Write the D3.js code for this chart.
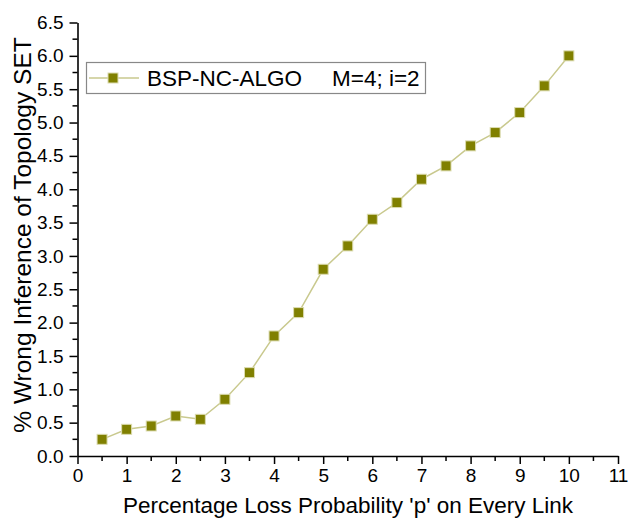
<!DOCTYPE html>
<html>
<head>
<meta charset="utf-8">
<script src="https://cdn.jsdelivr.net/npm/d3@7"></script>
<style>
  html, body { margin: 0; padding: 0; background: #fff; }
  svg { display: block; font-family: "Liberation Sans", Arial, sans-serif; }
</style>
</head>
<body>
<svg id="chart" width="630" height="525"></svg>
<script>
// Loss probability p (%) and wrong-inference rate (%)
const lossP = [0.5, 1, 1.5, 2, 2.5, 3, 3.5, 4, 4.5, 5, 5.5, 6, 6.5, 7, 7.5, 8, 8.5, 9, 9.5, 10];
const wrongInference = [0.25, 0.4, 0.45, 0.6, 0.55, 0.85, 1.25, 1.8, 2.15, 2.8, 3.15, 3.55, 3.8, 4.15, 4.35, 4.65, 4.85, 5.15, 5.55, 6.0];
const xTicks = [0, 1, 2, 3, 4, 5, 6, 7, 8, 9, 10, 11];
const yTicks = [0, 0.5, 1, 1.5, 2, 2.5, 3, 3.5, 4, 4.5, 5, 5.5, 6, 6.5];
const seriesName = "BSP-NC-ALGO";
const seriesNote = "M=4; i=2";
const xTitle = "Percentage Loss Probability 'p' on Every Link";
const yTitle = "% Wrong Inference of Topology SET";

const svg = d3.select("#chart");
const plotLeft = 77.5, plotRight = 618, plotTop = 22.5, plotBottom = 456;

const x = d3.scaleLinear().domain([0, 11]).range([plotLeft, plotRight]);
const y = d3.scaleLinear().domain([0, 6.5]).range([plotBottom, plotTop]);

const lineColor = "#c9c98e";
const markColor = "#808000";

// x axis: major ticks with labels, minor ticks at half steps
const xMinor = d3.range(0.5, 11, 1);
const xAxisG = svg.append("g").attr("transform", `translate(0,${plotBottom})`);
xAxisG.call(d3.axisBottom(x).tickValues(xTicks).tickFormat(d3.format("d")).tickSize(8).tickSizeOuter(0).tickPadding(5));
xAxisG.append("g").selectAll("line").data(xMinor).join("line")
  .attr("x1", d => x(d)).attr("x2", d => x(d)).attr("y1", 0).attr("y2", 5)
  .attr("stroke", "#000").attr("stroke-width", 1.5);

// y axis
const yMinor = d3.range(0.25, 6.5, 0.5);
const yAxisG = svg.append("g").attr("transform", `translate(${plotLeft},0)`);
yAxisG.call(d3.axisLeft(y).tickValues(yTicks).tickFormat(d3.format(".1f")).tickSize(8).tickSizeOuter(0).tickPadding(6));
yAxisG.append("g").selectAll("line").data(yMinor).join("line")
  .attr("y1", d => y(d)).attr("y2", d => y(d)).attr("x1", 0).attr("x2", -5)
  .attr("stroke", "#000").attr("stroke-width", 1.5);

[xAxisG, yAxisG].forEach(g => {
  g.attr("font-size", null).attr("font-family", null);
  g.selectAll(".domain").attr("stroke", "#000").attr("stroke-width", 1.6);
  g.selectAll(".tick line").attr("stroke", "#000").attr("stroke-width", 1.5);
  g.selectAll(".tick text").attr("fill", "#000").style("font-size", "19px");
});

// axis titles
svg.append("text")
  .attr("x", 348).attr("y", 513)
  .attr("text-anchor", "middle").style("font-size", "22.5px").attr("fill", "#000")
  .text(xTitle);
svg.append("text")
  .attr("transform", "translate(31,235) rotate(-90)")
  .attr("text-anchor", "middle").style("font-size", "24.5px").attr("fill", "#000")
  .text(yTitle);

// data line and markers
const pts = lossP.map((p, i) => [p, wrongInference[i]]);
svg.append("path")
  .datum(pts)
  .attr("fill", "none").attr("stroke", lineColor).attr("stroke-width", 1.5)
  .attr("d", d3.line().x(d => x(d[0])).y(d => y(d[1])));

const ms = 10;
svg.append("g").selectAll("rect").data(pts).join("rect")
  .attr("x", d => x(d[0]) - ms / 2).attr("y", d => y(d[1]) - ms / 2)
  .attr("width", ms).attr("height", ms)
  .attr("fill", markColor).attr("stroke", "#dcdcb0").attr("stroke-width", 1);

// legend
const lg = svg.append("g");
lg.append("rect").attr("x", 86.5).attr("y", 62.5).attr("width", 339).attr("height", 31)
  .attr("fill", "#fff").attr("stroke", "#888").attr("stroke-width", 1.2);
lg.append("line").attr("x1", 89).attr("x2", 139).attr("y1", 78).attr("y2", 78)
  .attr("stroke", lineColor).attr("stroke-width", 1.5);
lg.append("rect").attr("x", 113 - ms / 2).attr("y", 78 - ms / 2).attr("width", ms).attr("height", ms)
  .attr("fill", markColor).attr("stroke", "#dcdcb0").attr("stroke-width", 1);
lg.append("text").attr("x", 147).attr("y", 86).style("font-size", "22.5px").attr("fill", "#000").text(seriesName);
lg.append("text").attr("x", 332).attr("y", 86).style("font-size", "22.5px").attr("fill", "#000").text(seriesNote);
</script>
</body>
</html>
